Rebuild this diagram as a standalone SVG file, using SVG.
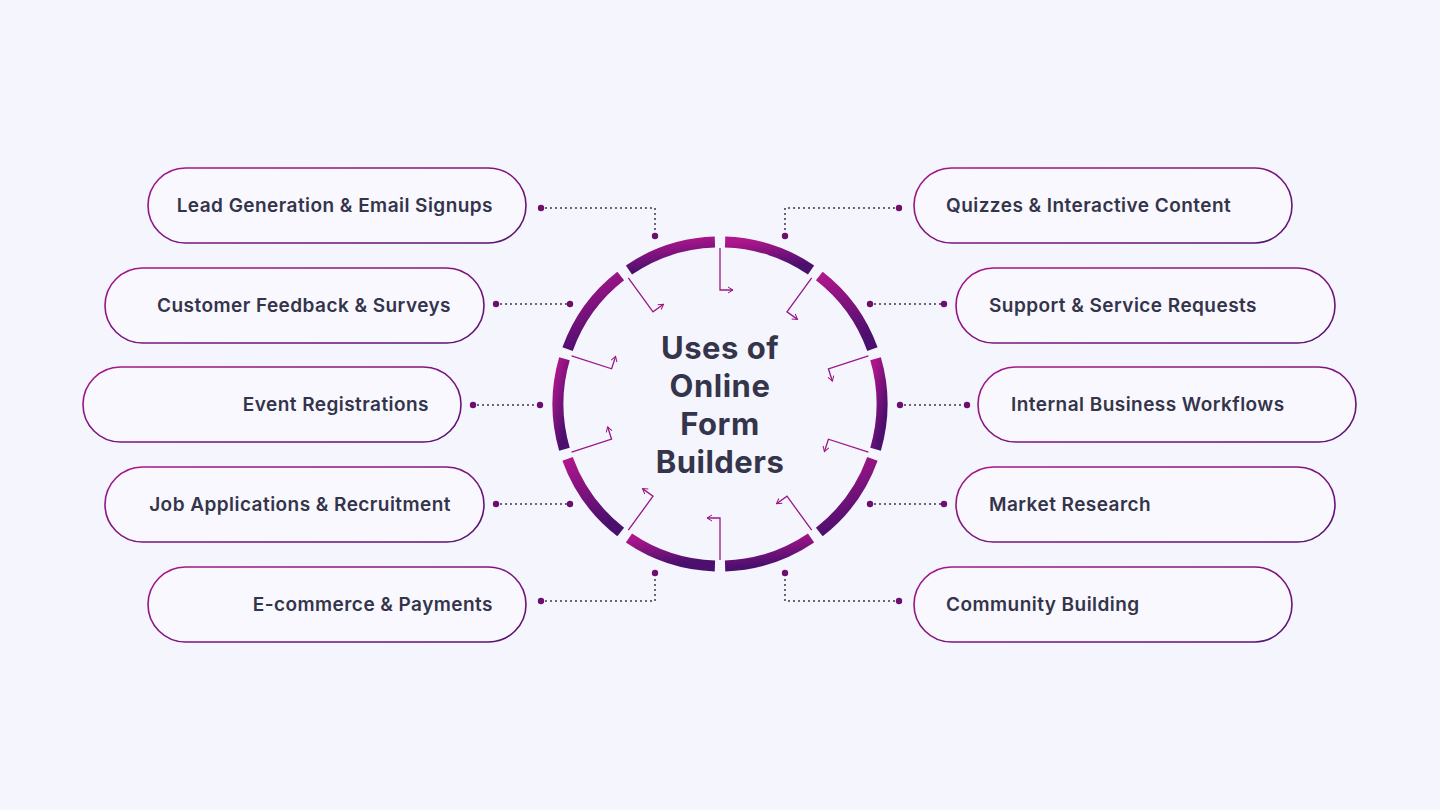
<svg xmlns="http://www.w3.org/2000/svg" width="1440" height="810" viewBox="0 0 1440 810">
<defs>
<linearGradient id="seg" x1="0" y1="0" x2="0.3" y2="1"><stop offset="0" stop-color="#b0168c"/><stop offset="1" stop-color="#4b0f6e"/></linearGradient>
<linearGradient id="pill" x1="0" y1="0" x2="1" y2="1"><stop offset="0" stop-color="#a8168a"/><stop offset="1" stop-color="#55136f"/></linearGradient>
<marker id="ah" markerWidth="8" markerHeight="8" refX="6" refY="4" orient="auto" markerUnits="userSpaceOnUse"><path d="M1,1 L6,4 L1,7" fill="none" stroke="#9a1785" stroke-width="1"/></marker>
</defs>
<style>
.p{fill:#f8f8fe;stroke:url(#pill);stroke-width:1.6}
.t{font-family:Inter,"Open Sans",sans-serif;font-weight:600;font-size:19px;letter-spacing:0.45px;fill:#34344a}
.c{font-family:Inter,"Open Sans",sans-serif;font-weight:700;font-size:31px;letter-spacing:0.5px;fill:#34344a;text-anchor:middle}
.s{fill:none;stroke:url(#seg);stroke-width:11}
.a{fill:none;stroke:#9a1785;stroke-width:1.3;marker-end:url(#ah)}
.d{fill:none;stroke:#3d3550;stroke-width:2;stroke-dasharray:0 5;stroke-linecap:round}
.dot{fill:#6d0f6e}
</style>
<rect width="1440" height="810" fill="#f4f5fd"/>
<g id="ring">
<path class="s" d="M725.09,242.08 A162,162 0 0 1 811.06,270.01"/>
<path class="s" d="M819.29,275.99 A162,162 0 0 1 872.43,349.13"/>
<path class="s" d="M875.57,358.80 A162,162 0 0 1 875.57,449.20"/>
<path class="s" d="M872.43,458.87 A162,162 0 0 1 819.29,532.01"/>
<path class="s" d="M811.06,537.99 A162,162 0 0 1 725.09,565.92"/>
<path class="s" d="M714.91,565.92 A162,162 0 0 1 628.94,537.99"/>
<path class="s" d="M620.71,532.01 A162,162 0 0 1 567.57,458.87"/>
<path class="s" d="M564.43,449.20 A162,162 0 0 1 564.43,358.80"/>
<path class="s" d="M567.57,349.13 A162,162 0 0 1 620.71,275.99"/>
<path class="s" d="M628.94,270.01 A162,162 0 0 1 714.91,242.08"/>
</g>
<g id="ring-arrows">
<polyline class="a" points="720,248 720,290 733,290"/>
<polyline class="a" points="811.7,277.8 787,311.8 797.5,319.4"/>
<polyline class="a" points="868.4,355.8 828.4,368.8 832.4,381.2"/>
<polyline class="a" points="868.4,452.2 828.4,439.2 824.4,451.6"/>
<polyline class="a" points="811.7,530.2 787,496.2 776.5,503.8"/>
<polyline class="a" points="720,560 720,518 707,518"/>
<polyline class="a" points="628.3,530.2 653,496.2 642.5,488.6"/>
<polyline class="a" points="571.6,452.2 611.6,439.2 607.6,426.8"/>
<polyline class="a" points="571.6,355.8 611.6,368.8 615.6,356.4"/>
<polyline class="a" points="628.3,277.8 653,311.8 663.5,304.2"/>
</g>
<g id="center">
<text class="c" x="720" y="359">Uses of</text>
<text class="c" x="720" y="397">Online</text>
<text class="c" x="720" y="435">Form</text>
<text class="c" x="720" y="473">Builders</text>
</g>
<g id="connectors">
<polyline class="d" points="541,208 655,208 655,236"/>
<line class="d" x1="496" y1="304" x2="570" y2="304"/>
<line class="d" x1="473" y1="405" x2="540" y2="405"/>
<line class="d" x1="496" y1="504" x2="570" y2="504"/>
<polyline class="d" points="541,601 655,601 655,573"/>
<polyline class="d" points="899,208 785,208 785,236"/>
<line class="d" x1="870" y1="304" x2="944" y2="304"/>
<line class="d" x1="900" y1="405" x2="967" y2="405"/>
<line class="d" x1="870" y1="504" x2="944" y2="504"/>
<polyline class="d" points="899,601 785,601 785,573"/>
<g class="dot">
<circle cx="541" cy="208" r="3.2"/><circle cx="655" cy="236" r="3.2"/>
<circle cx="496" cy="304" r="3.2"/><circle cx="570" cy="304" r="3.2"/>
<circle cx="473" cy="405" r="3.2"/><circle cx="540" cy="405" r="3.2"/>
<circle cx="496" cy="504" r="3.2"/><circle cx="570" cy="504" r="3.2"/>
<circle cx="541" cy="601" r="3.2"/><circle cx="655" cy="573" r="3.2"/>
<circle cx="899" cy="208" r="3.2"/><circle cx="785" cy="236" r="3.2"/>
<circle cx="870" cy="304" r="3.2"/><circle cx="944" cy="304" r="3.2"/>
<circle cx="900" cy="405" r="3.2"/><circle cx="967" cy="405" r="3.2"/>
<circle cx="870" cy="504" r="3.2"/><circle cx="944" cy="504" r="3.2"/>
<circle cx="899" cy="601" r="3.2"/><circle cx="785" cy="573" r="3.2"/>
</g>
</g>
<g id="n1"><rect class="p" x="148" y="168" width="378" height="75" rx="37.5"/><text class="t" x="493" y="212" text-anchor="end">Lead Generation &amp; Email Signups</text></g>
<g id="n2"><rect class="p" x="105" y="268" width="379" height="75" rx="37.5"/><text class="t" x="451" y="312" text-anchor="end">Customer Feedback &amp; Surveys</text></g>
<g id="n3"><rect class="p" x="83" y="367" width="378" height="75" rx="37.5"/><text class="t" x="429" y="411" text-anchor="end">Event Registrations</text></g>
<g id="n4"><rect class="p" x="105" y="467" width="379" height="75" rx="37.5"/><text class="t" x="451" y="511" text-anchor="end">Job Applications &amp; Recruitment</text></g>
<g id="n5"><rect class="p" x="148" y="567" width="378" height="75" rx="37.5"/><text class="t" x="493" y="611" text-anchor="end">E-commerce &amp; Payments</text></g>
<g id="n6"><rect class="p" x="914" y="168" width="378" height="75" rx="37.5"/><text class="t" x="946" y="212">Quizzes &amp; Interactive Content</text></g>
<g id="n7"><rect class="p" x="956" y="268" width="379" height="75" rx="37.5"/><text class="t" x="989" y="312">Support &amp; Service Requests</text></g>
<g id="n8"><rect class="p" x="978" y="367" width="378" height="75" rx="37.5"/><text class="t" x="1011" y="411">Internal Business Workflows</text></g>
<g id="n9"><rect class="p" x="956" y="467" width="379" height="75" rx="37.5"/><text class="t" x="989" y="511">Market Research</text></g>
<g id="n10"><rect class="p" x="914" y="567" width="378" height="75" rx="37.5"/><text class="t" x="946" y="611">Community Building</text></g>
</svg>
